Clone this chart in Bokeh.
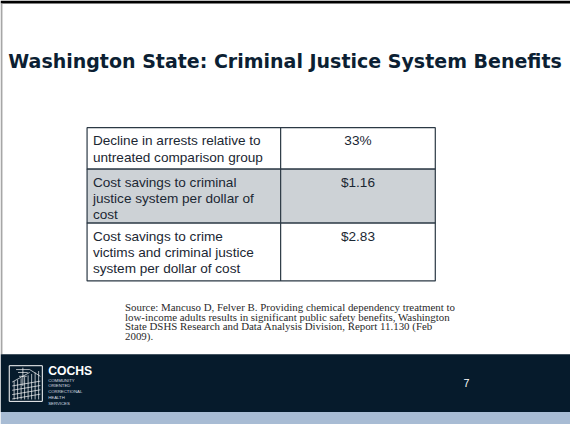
from bokeh.plotting import figure
from bokeh.models import Range1d
from bokeh.core.properties import value
from bokeh.embed import file_html
from bokeh.resources import INLINE

# ---- content ----
title = "Washington State: Criminal Justice System Benefits"
row_labels = [
    ["Decline in arrests relative to", "untreated comparison group"],
    ["Cost savings to criminal", "justice system per dollar of", "cost"],
    ["Cost savings to crime", "victims and criminal justice", "system per dollar of cost"],
]
row_values = ["33%", "$1.16", "$2.83"]
row_shaded = [False, True, False]
source_lines = [
    "Source: Mancuso D, Felver B. Providing chemical dependency treatment to",
    "low-income adults results in significant public safety benefits, Washington",
    "State DSHS Research and Data Analysis Division, Report 11.130 (Feb",
    "2009).",
]
logo_name = "COCHS"
logo_sub = ["COMMUNITY", "ORIENTED", "CORRECTIONAL", "HEALTH", "SERVICES"]
page_number = "7"

# ---- layout (reference pixel space 586 x 440) ----
W, H = 586, 440
PW, PH = 570, 424
S = PW / W  # font scale

p = figure(width=PW, height=PH, output_backend="svg", toolbar_location=None,
           x_range=Range1d(0, W), y_range=Range1d(H, 0),
           min_border=0, outline_line_color=None)
p.axis.visible = False
p.grid.visible = False
p.background_fill_color = "white"
p.border_fill_color = "white"

def fs(px):
    return f"{px * S:.1f}px"

SANS = value("Liberation Sans")
SERIF = value("Liberation Serif")

# top black bar and left grey rule
p.quad(left=[0], right=[W], top=[0], bottom=[3], fill_color="#000000", line_color=None)
p.quad(left=[0], right=[2], top=[3], bottom=[367], fill_color="#a6a6a6", line_color=None)

# title
p.text(x=[8], y=[63], text=[title], text_font=value("DejaVu Sans"), text_font_style="bold",
       text_font_size=fs(19.5), text_color="#0c1f33", text_baseline="middle")

# table
tx0, tx1, tx2 = 89, 288, 447
row_edges = [132, 175, 231, 291]
line_h = 17
for i, (lab, val) in enumerate(zip(row_labels, row_values)):
    top, bot = row_edges[i], row_edges[i + 1]
    fill = "#cdd2d6" if row_shaded[i] else "white"
    p.quad(left=[tx0], right=[tx2], top=[top], bottom=[bot],
           fill_color=fill, line_color="#2b3844", line_width=1.2)
    ys = [top + 13.5 + k * line_h for k in range(len(lab))]
    p.text(x=[tx0 + 6] * len(lab), y=ys, text=lab, text_font=SANS,
           text_font_size=fs(14), text_color="#1b2733", text_baseline="middle")
    p.text(x=[(tx1 + tx2) / 2], y=[top + 13.5], text=[val], text_font=SANS,
           text_font_size=fs(14), text_color="#1b2733", text_baseline="middle",
           text_align="center")
p.segment(x0=[tx1], y0=[row_edges[0]], x1=[tx1], y1=[row_edges[-1]],
          line_color="#2b3844", line_width=1.2)

# source note
sy = [318 + k * 10 for k in range(len(source_lines))]
p.text(x=[128] * len(source_lines), y=sy, text=source_lines, text_font=SERIF,
       text_font_size=fs(11.2), text_color="#2a2a2a", text_baseline="middle")

# footer bands
p.quad(left=[0], right=[W], top=[367], bottom=[427], fill_color="#061b2c", line_color=None)
p.quad(left=[0], right=[W], top=[427], bottom=[H], fill_color="#a8bcd4", line_color=None)

# logo: box with building / grid sketch
lx0, lx1, ly0, ly1 = 9, 43, 379, 416
p.quad(left=[lx0], right=[lx1], top=[ly0], bottom=[ly1], fill_color=None,
       line_color="white", line_width=1)
xs_v, ys_v = [], []
for k in range(8):
    x = 14 + k * 3.6
    xs_v.append([x, x])
    ys_v.append([395 - k * 1.5, 414])
for k in range(4):
    y = 398 + k * 4.5
    xs_v.append([12, 41])
    ys_v.append([y + 2, y - 3])
xs_v += [[16, 30], [23, 23], [18, 28], [19, 27]]
ys_v += [[383, 383], [381, 400], [386, 386], [390, 390]]
xs_v += [[30, 41], [12, 30]]
ys_v += [[383, 390], [396, 386]]
p.multi_line(xs=xs_v, ys=ys_v, line_color="white", line_width=0.8, line_alpha=0.85)

p.text(x=[49], y=[384], text=[logo_name], text_font=SANS, text_font_style="bold",
       text_font_size=fs(12.5), text_color="white", text_baseline="middle")
p.text(x=[49] * len(logo_sub), y=[394 + 6 * k for k in range(len(logo_sub))],
       text=logo_sub, text_font=SANS, text_font_size=fs(4.4), text_color="#d8dde3",
       text_baseline="middle")

p.text(x=[476], y=[397], text=[page_number], text_font=SANS, text_font_size=fs(11),
       text_color="white", text_baseline="middle")

open("out.html", "w").write(file_html(p, INLINE))
